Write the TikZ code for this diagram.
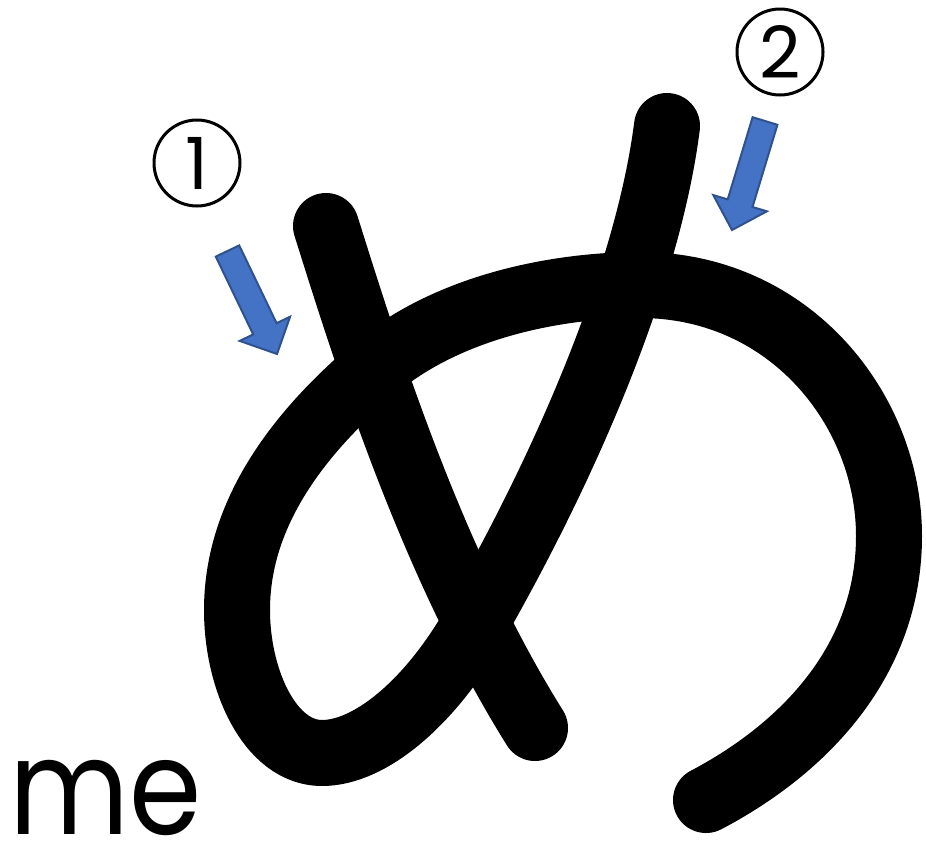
\documentclass[tikz,border=0pt]{standalone}
\usepackage{graphicx}
\usepackage{fontspec}
\newfontfamily\popfont{Poppins}
\definecolor{arrowfill}{HTML}{4472C4}
\definecolor{arrowline}{HTML}{2F528F}
\tikzset{
  brush/.style={line width=66pt, line cap=round, line join=round},
  pointer/.style={fill=arrowfill, draw=arrowline, line width=2pt, line join=miter},
  numcircle/.style={draw, circle, line width=3pt, minimum size=86pt, inner sep=0pt,
    font=\popfont\fontsize{72}{72}\selectfont},
}
\begin{document}
\begin{tikzpicture}[x=1pt,y=-1pt]
\useasboundingbox (0,0) rectangle (926,841);
% stroke 1
\draw[brush] (326,226) .. controls (365,350) and (430,560) .. (535,728);
% stroke 2
\draw[brush] (667,126) .. controls (650,260) and (580,440) .. (475,624)
  .. controls (430,703) and (370,753) .. (322,753)
  .. controls (270,753) and (237,680) .. (237,610)
  .. controls (237,520) and (290,440) .. (375,368)
  .. controls (450,305) and (560,285) .. (640,285)
  .. controls (790,285) and (889,410) .. (889,536)
  .. controls (889,660) and (805,748) .. (706,800);
% arrows
\draw[pointer] (215.8,256.6) -- (239.2,245.4) -- (276.6,323.2) -- (290.1,316.7) -- (277,354) -- (239.7,340.9) -- (253.2,334.4) -- cycle;
\draw[pointer] (752.6,117.2) -- (777.4,124.8) -- (752.5,207.0) -- (766.9,211.3) -- (732,230) -- (713.3,195.1) -- (727.7,199.4) -- cycle;
% numbers
\node[numcircle] (n1) at (197,163) {1};
\node[numcircle] (n2) at (780,52) {2};
% romaji
\node[anchor=base west, inner sep=0pt, font=\popfont\fontsize{133}{133}\selectfont] (me) at (9,834) {\scalebox{0.875}[1]{me}};
\end{tikzpicture}
\end{document}
